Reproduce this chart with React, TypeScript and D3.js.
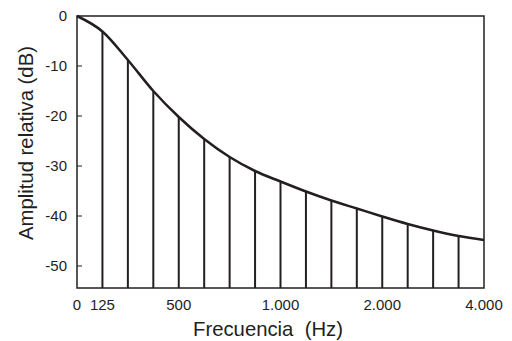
import React from "react";
import * as d3 from "d3";

const bandIndex = [0, 1, 2, 3, 4, 5, 6, 7, 8, 9, 10, 11, 12, 13, 14, 15, 16];
const amplitudeDb = [0, -3.1, -8.8, -15.0, -20.2, -24.6, -28.2, -31.0, -33.1, -35.1, -36.9, -38.5, -40.1, -41.6, -42.9, -44.0, -44.8];
const xTickIndex = [0, 1, 4, 8, 12, 16];
const xTickLabels = ["0", "125", "500", "1.000", "2.000", "4.000"];
const yTicks = [0, -10, -20, -30, -40, -50];

export default function App() {
  const W = 512, H = 341;
  const left = 77, right = 484, top = 16, bottom = 288;
  const x = d3.scaleLinear().domain([0, 16]).range([left, right]);
  const y = d3.scaleLinear().domain([-54.4, 0]).range([bottom, top]);
  const pts: [number, number][] = bandIndex.map((b, i) => [x(b), y(amplitudeDb[i])]);
  const line = d3.line().curve(d3.curveMonotoneX)(pts) || "";
  const col = "#231f20";
  const font = "'Liberation Sans', Arial, sans-serif";
  return (
    <svg width={W} height={H} style={{ position: "absolute", left: 0, top: 0 }} fontFamily={font}>
      <rect x={0} y={0} width={W} height={H} fill="#fff" />
      {bandIndex.slice(1, -1).map((b, i) => (
        <line key={b} x1={x(b)} x2={x(b)} y1={y(amplitudeDb[i + 1])} y2={bottom} stroke={col} strokeWidth={2} />
      ))}
      <rect x={left} y={top} width={right - left} height={bottom - top} fill="none" stroke={col} strokeWidth={1.5} />
      {yTicks.map((t) => (
        <g key={t}>
          {t !== 0 && <line x1={left} x2={left + 5} y1={y(t)} y2={y(t)} stroke={col} strokeWidth={1} />}
          <text x={67} y={y(t)} dy="0.36em" textAnchor="end" fontSize={15} fill={col}>{t}</text>
        </g>
      ))}
      {xTickIndex.map((b, i) => (
        <text key={b} x={x(b)} y={309.5} textAnchor="middle" fontSize={15} fill={col}>{xTickLabels[i]}</text>
      ))}
      <path d={line} fill="none" stroke={col} strokeWidth={2.5} />
      <text x={268} y={335.5} textAnchor="middle" fontSize={20.3} fill={col} style={{ whiteSpace: "pre" }}>{"Frecuencia  (Hz)"}</text>
      <text transform={`translate(33,143) rotate(-90)`} textAnchor="middle" fontSize={20.3} fill={col}>Amplitud relativa (dB)</text>
    </svg>
  );
}
